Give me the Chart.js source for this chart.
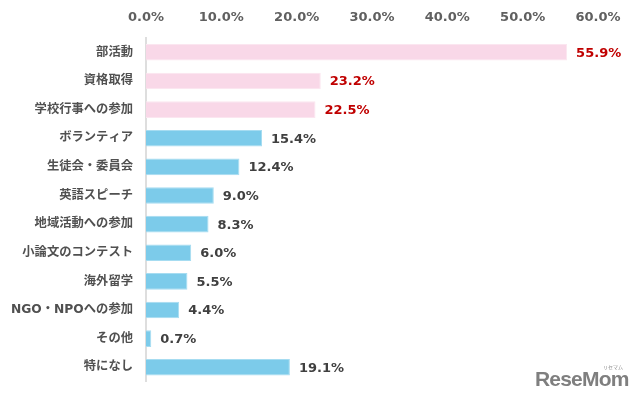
<!DOCTYPE html>
<html><head><meta charset="utf-8">
<script src="https://cdn.jsdelivr.net/npm/chart.js@4.4.0/dist/chart.umd.min.js"></script>
<style>html,body{margin:0;padding:0;background:#fff;}#wrap{position:relative;width:640px;height:402px;}
#logo{position:absolute;left:535px;top:367px;font:bold 21px 'Liberation Sans',sans-serif;color:#7f7f7f;letter-spacing:-0.8px;}
#logo2{position:absolute;left:603px;top:363px;font:5px 'Noto Sans CJK JP',sans-serif;color:#8a8a8a;}
</style></head>
<body><div id="wrap"><canvas id="c" width="640" height="402"></canvas><div id="logo">ReseMom</div><div id="logo2">リセマム</div></div>
<script>
const categories = ['部活動','資格取得','学校行事への参加','ボランティア','生徒会・委員会','英語スピーチ','地域活動への参加','小論文のコンテスト','海外留学','NGO・NPOへの参加','その他','特になし'];
const values = [55.9,23.2,22.5,15.4,12.4,9.0,8.3,6.0,5.5,4.4,0.7,19.1];
const tickValues = [0,10,20,30,40,50,60];
const highlightCount = 3;

const barColors = values.map((v,i)=> i<highlightCount ? '#f9d8e8' : '#7ccbea');
const borderColors = values.map((v,i)=> i<highlightCount ? '#fbe6f0' : '#a6dcf1');
const labelColors = values.map((v,i)=> i<highlightCount ? '#c00000' : '#404040');
const FONT = "'DejaVu Sans','Noto Sans CJK JP',sans-serif";

const valueLabels = {
  id:'valueLabels',
  afterDatasetsDraw(chart){
    const ctx = chart.ctx;
    const meta = chart.getDatasetMeta(0);
    ctx.save();
    ctx.font = 'bold 13px ' + FONT;
    ctx.textBaseline = 'middle';
    ctx.textAlign = 'left';
    meta.data.forEach((bar,i)=>{
      ctx.fillStyle = labelColors[i];
      ctx.fillText(values[i].toFixed(1)+'%', bar.x + 9, bar.y + 1);
    });
    ctx.restore();
  }
};

new Chart(document.getElementById('c'), {
  type:'bar',
  data:{labels:categories, datasets:[{data:values, backgroundColor:barColors, borderColor:borderColors, borderWidth:1, barPercentage:0.58, categoryPercentage:1.0}]},
  options:{
    indexAxis:'y', responsive:false, animation:false,
    layout:{padding:{left:0,right:42,top:0,bottom:20}},
    plugins:{legend:{display:false}, tooltip:{enabled:false}},
    scales:{
      x:{position:'top', min:0, max:60,
        afterBuildTicks(s){ s.ticks = tickValues.map(v=>({value:v})); },
        afterFit(s){ s.height = 38; },
        grid:{display:false, drawTicks:false}, border:{display:false},
        ticks:{padding:13, color:'#606060', font:{family:FONT, size:13, weight:'bold'}, callback:v=>Number(v).toFixed(1)+'%'}
      },
      y:{
        afterFit(s){ s.width = 146; },
        grid:{display:false, drawTicks:false}, border:{display:true, color:'#dedede', width:2},
        ticks:{padding:13, color:'#505050', font:{family:FONT, size:12.3, weight:'bold'}}
      }
    }
  },
  plugins:[valueLabels]
});
</script></body></html>
